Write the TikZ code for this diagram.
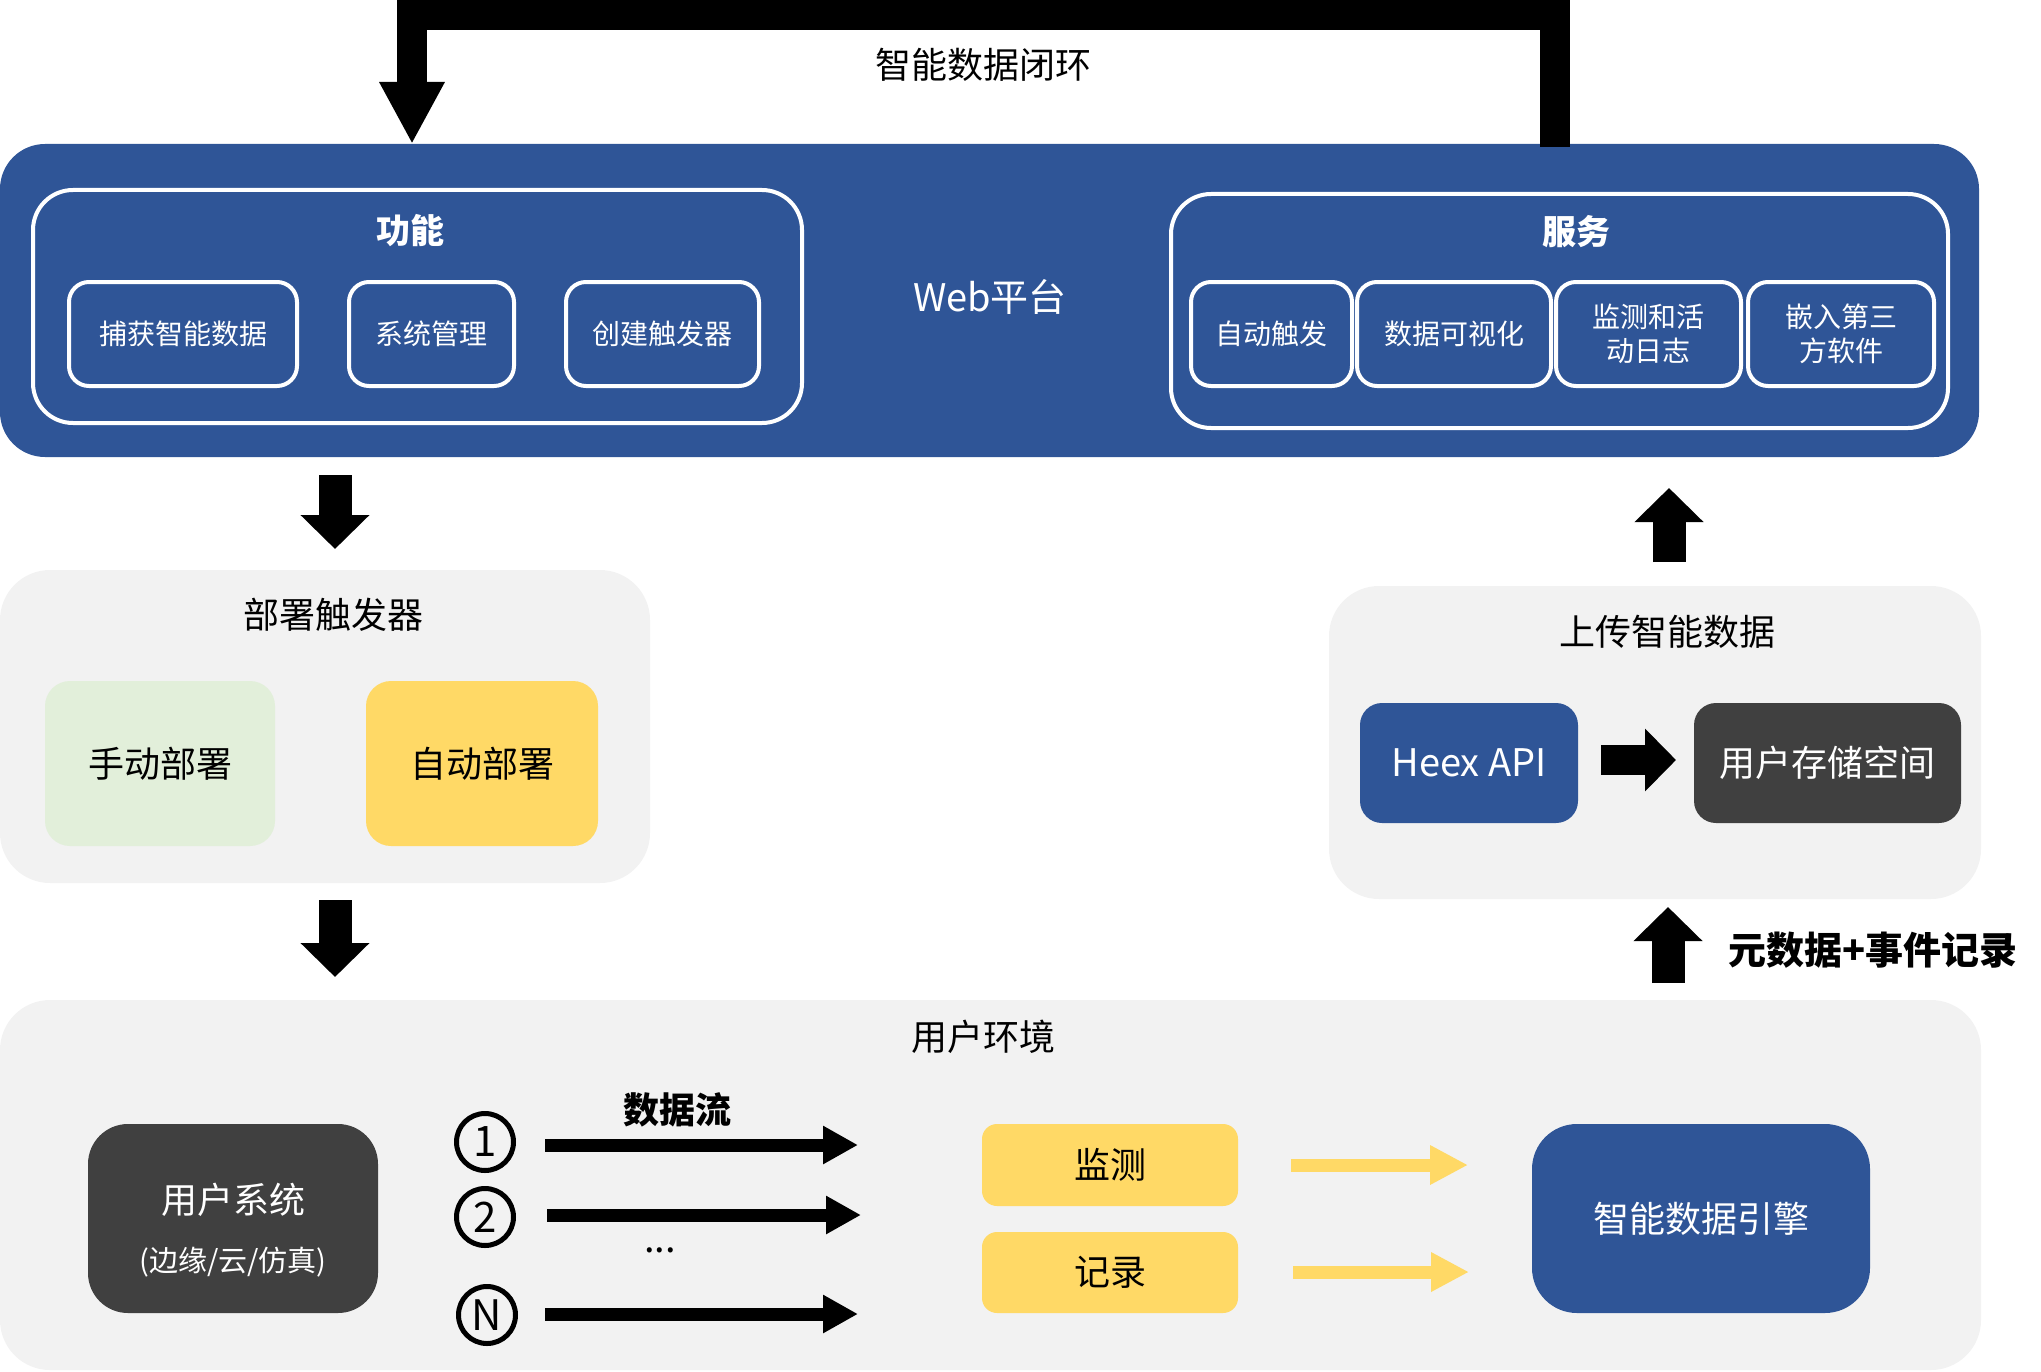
\documentclass[tikz,border=0pt]{standalone}
\usepackage{fontspec}
\setmainfont{Noto Sans CJK SC}
\usetikzlibrary{arrows.meta}
\definecolor{hblue}{HTML}{2F5597}
\definecolor{hgray}{HTML}{F2F2F2}
\definecolor{hdark}{HTML}{404040}
\definecolor{hyellow}{HTML}{FFD966}
\definecolor{hgreen}{HTML}{E2EFDA}
\newcommand\fszL{\fontsize{36}{43}\selectfont}
\newcommand\fszM{\fontsize{28}{34}\selectfont}
\newcommand\fszT{\fontsize{34}{40}\selectfont}
\begin{document}
\begin{tikzpicture}[x=1pt,y=-1pt,
  rb/.style={anchor=north west, inner sep=0pt, outer sep=0pt},
  lbl/.style={inner sep=0pt, font=\fszL},
  wbox/.style={rb, draw=white, line width=4pt, rounded corners=20pt, text=white, font=\fszM, align=center},
  panel/.style={rb, fill=hgray, rounded corners=50pt},
  solidbox/.style={rb, rounded corners=#1, font=\fszL},
  blockarrow/.style={line width=33pt, -{Triangle[width=67pt,length=34pt]}},
  flowarrow/.style={line width=13pt, -{Triangle[width=36pt,length=35pt]}},
  yarrow/.style={draw=hyellow, line width=13pt, -{Triangle[width=37pt,length=38pt]}},
  numcirc/.style={circle, draw, line width=5pt, minimum size=57pt, inner sep=0pt, font=\fontsize{42}{42}\selectfont}
]
\useasboundingbox (0,0) rectangle (2041,1372);

% ---------- Web platform ----------
\node[rb, fill=hblue, rounded corners=45pt, minimum width=1979pt, minimum height=313pt] (web) at (0,144) {};
\node[wbox, rounded corners=40pt, minimum width=769pt, minimum height=233pt] (func) at (33,190) {};
\node[lbl, text=white, font=\fszT\bfseries] (functitle) at (410,231) {功能};
\node[wbox, minimum width=228pt, minimum height=104pt] (capture) at (69,282) {捕获智能数据};
\node[wbox, minimum width=165pt, minimum height=104pt] (sysmgmt) at (349,282) {系统管理};
\node[wbox, minimum width=193pt, minimum height=104pt] (mktrig) at (566,282) {创建触发器};
\node[lbl, text=white, font=\fontsize{38}{44}\selectfont] (webtitle) at (990,297) {Web平台};
\node[wbox, rounded corners=40pt, minimum width=777pt, minimum height=234pt] (service) at (1171,194) {};
\node[lbl, text=white, font=\fszT\bfseries] (servtitle) at (1576,232) {服务};
\node[wbox, minimum width=161pt, minimum height=104pt] (autotrig) at (1191,282) {自动触发};
\node[wbox, minimum width=194pt, minimum height=104pt] (dataviz) at (1357,282) {数据可视化};
\node[wbox, minimum width=185pt, minimum height=104pt] (monlog) at (1556,282) {监测和活\\动日志};
\node[wbox, minimum width=186pt, minimum height=104pt] (embed) at (1748,282) {嵌入第三\\方软件};

% ---------- loop arrow ----------
\coordinate (loopA) at (1555,147);
\coordinate (loopB) at (412,144);
\draw[line width=30pt, line join=miter, -{Triangle[width=61pt,length=62pt]}]
  (loopA) -- (1555,15) -- (412,15) -- (loopB);
\node[lbl] (looplbl) at (983,65) {智能数据闭环};

% ---------- deploy trigger ----------
\node[panel, minimum width=650pt, minimum height=313pt] (deploy) at (0,570) {};
\node[lbl] (deploytitle) at (333,615) {部署触发器};
\node[solidbox=25pt, fill=hgreen, minimum width=230pt, minimum height=165pt] (manual) at (45,681) {手动部署};
\node[solidbox=25pt, fill=hyellow, minimum width=232pt, minimum height=165pt] (auto) at (366,681) {自动部署};

\coordinate (a1s) at (335,475);
\coordinate (a1e) at (335,549);
\draw[blockarrow] (a1s) -- (a1e);
\coordinate (a2s) at (335,900);
\coordinate (a2e) at (335,977);
\draw[blockarrow] (a2s) -- (a2e);

% ---------- upload ----------
\node[panel, minimum width=652pt, minimum height=313pt] (upload) at (1329,586) {};
\node[lbl] (uploadtitle) at (1667,632) {上传智能数据};
\node[solidbox=22pt, fill=hblue, text=white, minimum width=218pt, minimum height=120pt, font=\fontsize{38}{44}\selectfont] (heex) at (1360,703) {Heex API};
\node[solidbox=22pt, fill=hdark, text=white, minimum width=267pt, minimum height=120pt] (storage) at (1694,703) {用户存储空间};
\coordinate (a3s) at (1601,760);
\coordinate (a3e) at (1676,760);
\draw[line width=30pt, -{Triangle[width=61pt,length=31pt]}] (a3s) -- (a3e);

\coordinate (a4s) at (1669,562);
\coordinate (a4e) at (1669,488);
\draw[blockarrow] (a4s) -- (a4e);
\coordinate (a5s) at (1668,983);
\coordinate (a5e) at (1668,907);
\draw[blockarrow] (a5s) -- (a5e);
\node[lbl, anchor=west, font=\fontsize{38}{44}\selectfont\bfseries] (metalbl) at (1728,950) {元数据+事件记录};

% ---------- user environment ----------
\node[panel, minimum width=1981pt, minimum height=370pt] (env) at (0,1000) {};
\node[lbl] (envtitle) at (983,1037) {用户环境};
\node[solidbox=40pt, fill=hdark, minimum width=290pt, minimum height=189pt] (usersys) at (88,1124) {};
\node[lbl, text=white] (usersysA) at (233,1200) {用户系统};
\node[lbl, text=white, font=\fontsize{29}{34}\selectfont] (usersysB) at (233,1262) {(边缘/云/仿真)};

\node[numcirc] (c1) at (485,1142) {1};
\node[numcirc] (c2) at (485,1217) {2};
\node[numcirc] (cN) at (487,1315) {N};
\coordinate (f1s) at (545,1145);
\coordinate (f1e) at (858,1145);
\coordinate (f2s) at (547,1215);
\coordinate (f2e) at (861,1215);
\coordinate (f3s) at (545,1314);
\coordinate (f3e) at (858,1314);
\draw[flowarrow] (f1s) -- (f1e);
\draw[flowarrow] (f2s) -- (f2e);
\draw[flowarrow] (f3s) -- (f3e);
\node[lbl, font=\fszL\bfseries] (flowlbl) at (677,1110) {数据流};
\node[lbl, font=\fontsize{38}{44}\selectfont] (dots) at (660,1250) {...};

\node[solidbox=15pt, fill=hyellow, minimum width=256pt, minimum height=82pt] (monitor) at (982,1124) {监测};
\node[solidbox=15pt, fill=hyellow, minimum width=256pt, minimum height=81pt] (record) at (982,1232) {记录};
\node[solidbox=45pt, fill=hblue, text=white, minimum width=338pt, minimum height=189pt] (engine) at (1532,1124) {智能数据引擎};
\coordinate (y1s) at (1291,1165);
\coordinate (y1e) at (1468,1165);
\coordinate (y2s) at (1293,1272);
\coordinate (y2e) at (1469,1272);
\draw[yarrow] (y1s) -- (y1e);
\draw[yarrow] (y2s) -- (y2e);
\end{tikzpicture}
\end{document}
